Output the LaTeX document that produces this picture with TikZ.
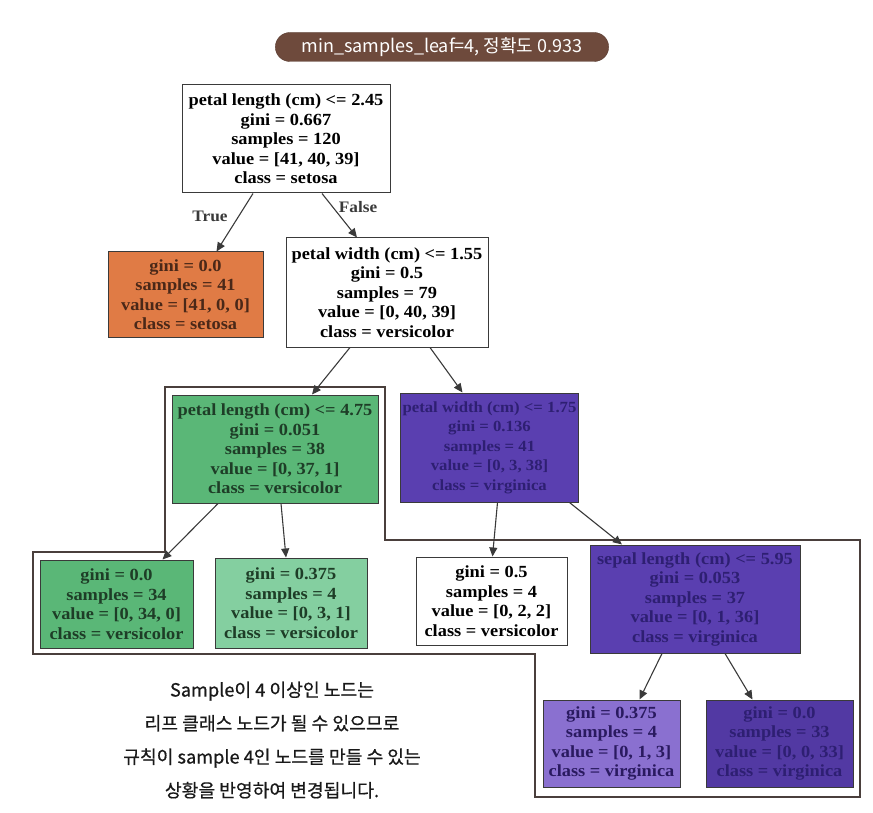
\documentclass[tikz,border=0pt]{standalone}
\usepackage{fontspec}
\setmainfont{Liberation Serif}[FakeStretch=1.08]
\newfontfamily\krfont{Noto Sans CJK KR}
\newfontfamily\krfontb{Noto Sans CJK KR}[FakeBold=0.6]
\usetikzlibrary{arrows.meta,shapes.misc}
\definecolor{edgec}{HTML}{3A3A3A}
\definecolor{orangef}{HTML}{E07B45}
\definecolor{orangetx}{HTML}{4A2818}
\definecolor{greenf}{HTML}{5AB777}
\definecolor{greenl}{HTML}{84CFA0}
\definecolor{greentx}{HTML}{1E3D27}
\definecolor{purplef}{HTML}{5A3FB0}
\definecolor{purpled}{HTML}{5239A3}
\definecolor{purplel}{HTML}{8A70D0}
\definecolor{purpletx}{HTML}{2E1F72}
\definecolor{purpleltx}{HTML}{2A1A60}
\definecolor{pillc}{HTML}{6E4A3C}
\definecolor{outlinec}{HTML}{4A3F3C}
\tikzset{
  tnode/.style={draw=edgec, line width=1pt, align=center, inner sep=2pt,
    font=\bfseries\fontsize{17}{19.5}\selectfont},
  arr/.style={draw=edgec, line width=1.1pt, -{Triangle[length=9pt,width=8pt]}},
  elabel/.style={font=\bfseries\fontsize{16}{18}\selectfont, text=edgec},
}
\begin{document}
\begin{tikzpicture}[x=1pt,y=-1pt]
\useasboundingbox (0,0) rectangle (873,813);
% outline polygon
\draw[outlinec, line width=1.5pt] (165,387) -- (385,387) -- (385,540) -- (860,540) -- (860,797) -- (535,797) -- (535,654) -- (33,654) -- (33,552) -- (165,552) -- cycle;
% title
\node[rounded rectangle, fill=pillc, draw=pillc!80!black, minimum width=340pt, minimum height=29pt, text=white, font=\krfont\fontsize{18}{20}\selectfont] (title) at (442,47) {min\_samples\_leaf=4, 정확도 0.933};
% nodes
\node[tnode, fill=white, minimum width=208pt, minimum height=108pt] (root) at (286,139)
  {petal length (cm) <= 2.45\\gini = 0.667\\samples = 120\\value = [41, 40, 39]\\class = setosa};
\node[tnode, fill=orangef, text=orangetx, minimum width=155pt, minimum height=85pt] (orange) at (185.5,294.5)
  {gini = 0.0\\samples = 41\\value = [41, 0, 0]\\class = setosa};
\node[tnode, fill=white, minimum width=202pt, minimum height=109pt] (n2) at (387,292.5)
  {petal width (cm) <= 1.55\\gini = 0.5\\samples = 79\\value = [0, 40, 39]\\class = versicolor};
\node[tnode, fill=greenf, text=greentx, minimum width=206pt, minimum height=108pt] (green) at (275,449)
  {petal length (cm) <= 4.75\\gini = 0.051\\samples = 38\\value = [0, 37, 1]\\class = versicolor};
\node[tnode, fill=purplef, text=purpletx, minimum width=175pt, minimum height=109pt, font=\bfseries\fontsize{15.5}{19.5}\selectfont] (purple) at (489.5,447.5)
  {petal width (cm) <= 1.75\\gini = 0.136\\samples = 41\\value = [0, 3, 38]\\class = virginica};
\node[tnode, fill=greenf, text=greentx, minimum width=153pt, minimum height=88pt] (leafa) at (116.5,604)
  {gini = 0.0\\samples = 34\\value = [0, 34, 0]\\class = versicolor};
\node[tnode, fill=greenl, text=greentx, minimum width=152pt, minimum height=90pt] (leafb) at (291,603)
  {gini = 0.375\\samples = 4\\value = [0, 3, 1]\\class = versicolor};
\node[tnode, fill=white, minimum width=151pt, minimum height=88pt] (leafc) at (491.5,601)
  {gini = 0.5\\samples = 4\\value = [0, 2, 2]\\class = versicolor};
\node[tnode, fill=purplef, text=purpletx, minimum width=210pt, minimum height=108pt] (sepal) at (695,599)
  {sepal length (cm) <= 5.95\\gini = 0.053\\samples = 37\\value = [0, 1, 36]\\class = virginica};
\node[tnode, fill=purplel, text=purpleltx, minimum width=137pt, minimum height=87pt] (leafd) at (611.5,743.5)
  {gini = 0.375\\samples = 4\\value = [0, 1, 3]\\class = virginica};
\node[tnode, fill=purpled, text=purpletx, minimum width=147pt, minimum height=87pt] (leafe) at (779.5,743.5)
  {gini = 0.0\\samples = 33\\value = [0, 0, 33]\\class = virginica};
% edges
\draw[arr] ([xshift=-33pt]root.south) -- ([xshift=31pt]orange.north);
\draw[arr] ([xshift=36pt]root.south) -- ([xshift=-30pt]n2.north);
\draw[arr] ([xshift=-37pt]n2.south) -- ([xshift=37pt]green.north);
\draw[arr] ([xshift=43pt]n2.south) -- ([xshift=-27pt]purple.north);
\draw[arr] ([xshift=-57pt]green.south) -- ([xshift=46pt]leafa.north);
\draw[arr] ([xshift=6pt]green.south) -- ([xshift=-5pt]leafb.north);
\draw[arr] ([xshift=8pt]purple.south) -- ([xshift=1pt]leafc.north);
\draw[arr] ([xshift=80pt]purple.south) -- ([xshift=-73pt]sepal.north);
\draw[arr] ([xshift=-33pt]sepal.south) -- ([xshift=28pt]leafd.north);
\draw[arr] ([xshift=30pt]sepal.south) -- ([xshift=-27pt]leafe.north);
% edge labels
\node[elabel] (truel) at (210,216) {True};
\node[elabel] (falsel) at (358,207) {False};
% caption
\node[align=center, text=black!90, font=\krfontb\fontsize{18.2}{33.5}\selectfont] (cap) at (272,740)
  {Sample이 4 이상인 노드는\\리프 클래스 노드가 될 수 있으므로\\규칙이 sample 4인 노드를 만들 수 있는\\상황을 반영하여 변경됩니다.};
\end{tikzpicture}
\end{document}
